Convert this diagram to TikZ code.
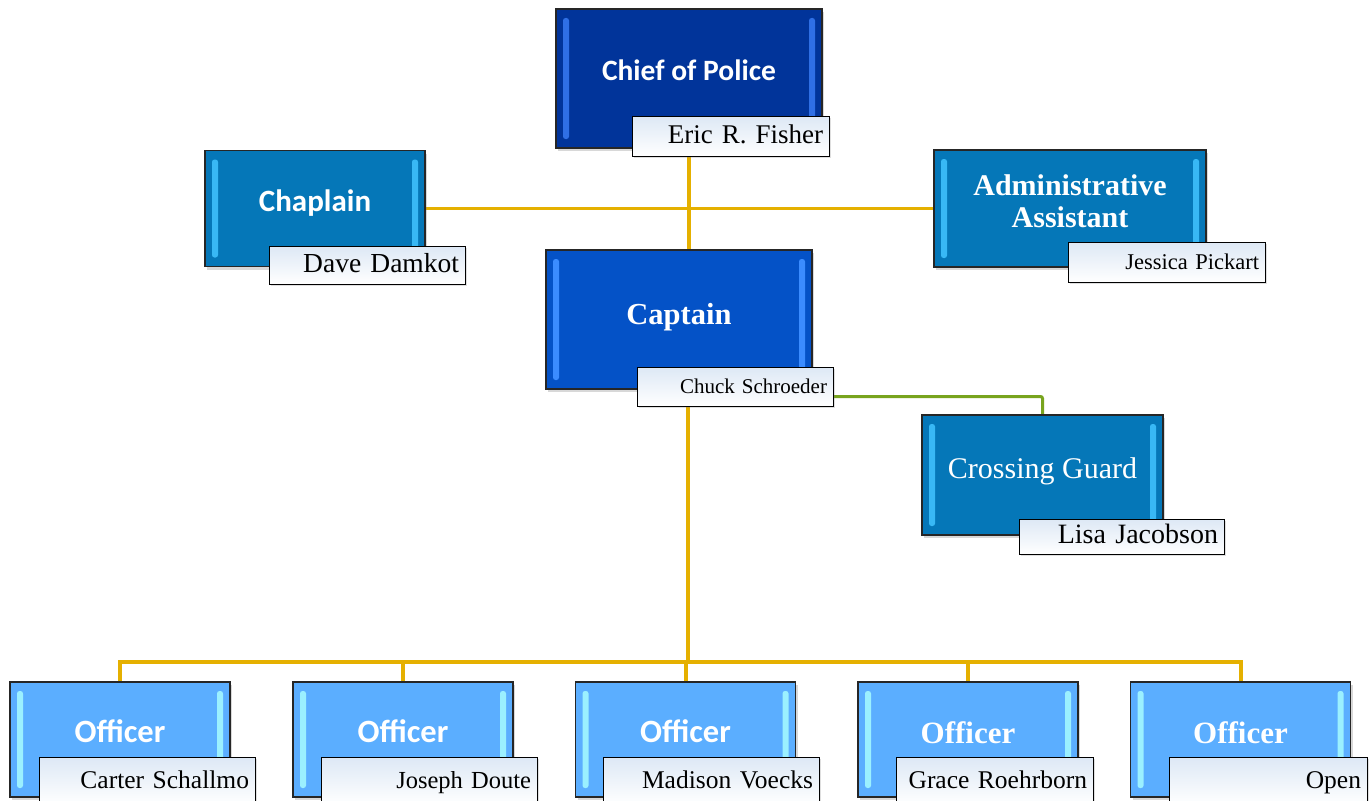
\documentclass[tikz,border=0pt]{standalone}
\usepackage{fontspec}
\setmainfont{Liberation Serif}
\newfontfamily\calfont{Carlito}
\usetikzlibrary{shadows,backgrounds}
\pgfdeclarelayer{background}
\pgfsetlayers{background,main}
\definecolor{chiefC}{HTML}{01349A}
\definecolor{chiefH}{HTML}{2F6FE5}
\definecolor{midC}{HTML}{0577B8}
\definecolor{midH}{HTML}{38B8F5}
\definecolor{captC}{HTML}{0452C7}
\definecolor{captH}{HTML}{3B8CFF}
\definecolor{offC}{HTML}{5BAEFF}
\definecolor{offH}{HTML}{9BF0FF}
\definecolor{lblT}{HTML}{DDE8F5}
\definecolor{connY}{HTML}{E5B000}
\definecolor{connG}{HTML}{78A41E}
\begin{document}
\begin{tikzpicture}[x=1pt,y=-1pt,
  orgbox/.style n args={2}{draw=black!85, line width=1.1pt, fill=#1, inner sep=0pt,
    drop shadow={shadow xshift=2pt,shadow yshift=-3pt,opacity=0.3},
    path picture={
      \fill[#2, rounded corners=2.5pt] ([xshift=7pt,yshift=-9pt]path picture bounding box.north west) rectangle ([xshift=13pt,yshift=9pt]path picture bounding box.south west);
      \fill[#2, rounded corners=2.5pt] ([xshift=-13pt,yshift=-9pt]path picture bounding box.north east) rectangle ([xshift=-7pt,yshift=9pt]path picture bounding box.south east);}},
  sz/.style 2 args={minimum width=#1pt, minimum height=#2pt},
  namelbl/.style={draw=black, line width=1pt, top color=lblT, bottom color=white,
    inner xsep=6pt, inner ysep=0pt, align=right, text height=19pt, text depth=5pt,
    drop shadow={shadow xshift=1.5pt,shadow yshift=-2pt,opacity=0.25}},
  sanstitle/.style={text=white, anchor=base, font=\calfont\bfseries\fontsize{#1}{#1}\selectfont},
  seriftitle/.style={text=white, anchor=base, align=center, font=\bfseries\fontsize{#1}{32}\selectfont},
  conn/.style={draw=connY, line width=4pt},
  connthin/.style={draw=connY, line width=3pt},
  conngreen/.style={draw=connG, line width=3pt, rounded corners=2pt}
]
\useasboundingbox (0,0) rectangle (1372,800);

% boxes
\node[orgbox={chiefC}{chiefH}, sz={266}{139}] (chief) at (689,78.5) {};
\node[orgbox={midC}{midH}, sz={220}{116}] (chaplain) at (315,208.5) {};
\node[orgbox={midC}{midH}, sz={272}{117}] (admin) at (1070,208.5) {};
\node[orgbox={captC}{captH}, sz={266}{139}] (captain) at (679,319.5) {};
\node[orgbox={midC}{midH}, sz={241}{120}] (guard) at (1042.5,475) {};
\node[orgbox={offC}{offH}, sz={220}{115}] (o1) at (120,739.5) {};
\node[orgbox={offC}{offH}, sz={220}{115}] (o2) at (403,739.5) {};
\node[orgbox={offC}{offH}, sz={220}{115}] (o3) at (685.5,739.5) {};
\node[orgbox={offC}{offH}, sz={220}{115}] (o4) at (968,739.5) {};
\node[orgbox={offC}{offH}, sz={220}{115}] (o5) at (1240.5,739.5) {};

% titles
\node[sanstitle=29.5] (chiefT) at (689,80) {Chief of Police};
\node[sanstitle=31] (chaplainT) at (315,211) {Chaplain};
\node[seriftitle=30] (adminT) at (1070,227) {Administrative\\Assistant};
\node[seriftitle=30.5] (captainT) at (679,324) {Captain};
\node[text=white, anchor=base, font=\fontsize{30}{32}\selectfont] (guardT) at (1042.5,478) {Crossing Guard};
\node[sanstitle=32.5] (o1T) at (120,742) {Officer};
\node[sanstitle=32.5] (o2T) at (403,742) {Officer};
\node[sanstitle=32.5] (o3T) at (685.5,742) {Officer};
\node[seriftitle=31] (o4T) at (968,743) {Officer};
\node[seriftitle=31] (o5T) at (1240.5,743) {Officer};

% name labels
\node[namelbl, text width=185pt, minimum height=40pt, font=\fontsize{27}{30}\selectfont] (chiefL) at (730.5,136) {Eric R. Fisher};
\node[namelbl, text width=184pt, minimum height=38pt, font=\fontsize{27.5}{30}\selectfont] (chaplainL) at (367,265) {Dave Damkot};
\node[namelbl, text width=185pt, minimum height=40pt, font=\fontsize{22.5}{26}\selectfont] (adminL) at (1166.5,262) {Jessica Pickart};
\node[namelbl, text width=184pt, minimum height=39pt, font=\fontsize{21}{24}\selectfont] (captainL) at (735,386.5) {Chuck Schroeder};
\node[namelbl, text width=193pt, minimum height=35pt, font=\fontsize{28}{30}\selectfont] (guardL) at (1121.5,536.5) {Lisa Jacobson};
\node[namelbl, text width=204pt, minimum height=48pt, font=\fontsize{25.5}{30}\selectfont] (o1L) at (147,781) {Carter Schallmo};
\node[namelbl, text width=204pt, minimum height=48pt, font=\fontsize{24.5}{30}\selectfont] (o2L) at (429,781) {Joseph Doute};
\node[namelbl, text width=204pt, minimum height=48pt, font=\fontsize{25.5}{30}\selectfont] (o3L) at (711,781) {Madison Voecks};
\node[namelbl, text width=185pt, minimum height=48pt, font=\fontsize{25.5}{30}\selectfont] (o4L) at (994.5,781) {Grace Roehrborn};
\node[namelbl, text width=186pt, minimum height=48pt, font=\fontsize{25.5}{30}\selectfont] (o5L) at (1268,781) {Open};

% connectors
\coordinate (bus) at (688,662);
\begin{pgfonlayer}{background}
\fill[white] (0,0) rectangle (1372,800);
\draw[conn] (chief.south) -- (chief.south |- captain.north);
\draw[connthin] (chaplain.east) -- (admin.west);
\draw[conn] (captain.south -| bus) -- (bus);
\draw[conn] (o1.north) |- (bus) -| (o5.north);
\draw[conn] (o2.north) -- (o2.north |- bus);
\draw[conn] (o3.north) -- (o3.north |- bus);
\draw[conn] (o4.north) -- (o4.north |- bus);
\draw[conngreen] ([yshift=-10pt]captainL.east) -| (guard.north);
\end{pgfonlayer}
\end{tikzpicture}
\end{document}
